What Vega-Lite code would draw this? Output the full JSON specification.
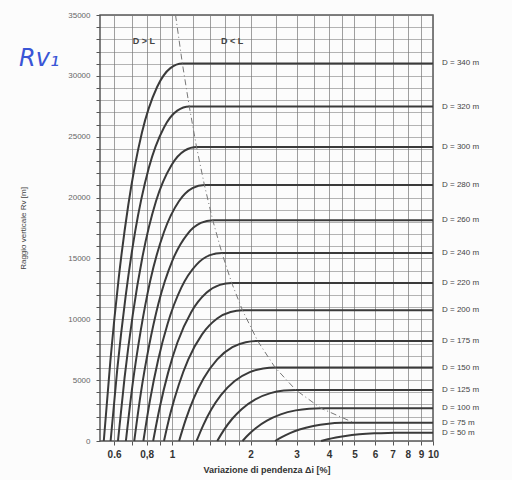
{
  "$schema": "https://vega.github.io/schema/vega-lite/v6.json",
  "width": 333,
  "height": 426,
  "autosize": {"type": "none"},
  "padding": {"left": 100, "top": 15, "right": 79, "bottom": 39},
  "background": "#fcfcfc",
  "config": {"view": {"stroke": "#555", "strokeWidth": 1.5}, "font": "Liberation Sans"},
  "datasets": {
    "curves": [
      {"D":340,"x":0.548,"y":0},{"D":340,"x":0.581,"y":6626},{"D":340,"x":0.625,"y":13367},{"D":340,"x":0.680,"y":19369},{"D":340,"x":0.767,"y":25322},{"D":340,"x":0.877,"y":29081},{"D":340,"x":0.986,"y":30638},{"D":340,"x":1.096,"y":31020},{"D":340,"x":10,"y":31020},
      {"D":320,"x":0.582,"y":0},{"D":320,"x":0.617,"y":5869},{"D":320,"x":0.664,"y":11840},{"D":320,"x":0.722,"y":17157},{"D":320,"x":0.815,"y":22430},{"D":320,"x":0.932,"y":25761},{"D":320,"x":1.048,"y":27140},{"D":320,"x":1.165,"y":27478},{"D":320,"x":10,"y":27478},
      {"D":300,"x":0.621,"y":0},{"D":300,"x":0.658,"y":5159},{"D":300,"x":0.708,"y":10407},{"D":300,"x":0.770,"y":15080},{"D":300,"x":0.869,"y":19714},{"D":300,"x":0.994,"y":22642},{"D":300,"x":1.118,"y":23854},{"D":300,"x":1.242,"y":24151},{"D":300,"x":10,"y":24151},
      {"D":280,"x":0.666,"y":0},{"D":280,"x":0.705,"y":4494},{"D":280,"x":0.759,"y":9065},{"D":280,"x":0.825,"y":13136},{"D":280,"x":0.932,"y":17173},{"D":280,"x":1.065,"y":19723},{"D":280,"x":1.198,"y":20779},{"D":280,"x":1.331,"y":21038},{"D":280,"x":10,"y":21038},
      {"D":260,"x":0.717,"y":0},{"D":260,"x":0.759,"y":3875},{"D":260,"x":0.817,"y":7817},{"D":260,"x":0.888,"y":11327},{"D":260,"x":1.003,"y":14808},{"D":260,"x":1.146,"y":17006},{"D":260,"x":1.290,"y":17917},{"D":260,"x":1.433,"y":18140},{"D":260,"x":10,"y":18140},
      {"D":240,"x":0.777,"y":0},{"D":240,"x":0.823,"y":3301},{"D":240,"x":0.885,"y":6660},{"D":240,"x":0.963,"y":9651},{"D":240,"x":1.087,"y":12617},{"D":240,"x":1.242,"y":14490},{"D":240,"x":1.398,"y":15266},{"D":240,"x":1.553,"y":15456},{"D":240,"x":10,"y":15456},
      {"D":220,"x":0.847,"y":0},{"D":220,"x":0.898,"y":2774},{"D":220,"x":0.966,"y":5597},{"D":220,"x":1.050,"y":8110},{"D":220,"x":1.186,"y":10602},{"D":220,"x":1.355,"y":12176},{"D":220,"x":1.525,"y":12828},{"D":220,"x":1.694,"y":12988},{"D":220,"x":10,"y":12988},
      {"D":200,"x":0.932,"y":0},{"D":200,"x":0.987,"y":2293},{"D":200,"x":1.062,"y":4625},{"D":200,"x":1.155,"y":6702},{"D":200,"x":1.304,"y":8761},{"D":200,"x":1.490,"y":10062},{"D":200,"x":1.677,"y":10601},{"D":200,"x":1.863,"y":10733},{"D":200,"x":10,"y":10733},
      {"D":175,"x":1.065,"y":0},{"D":175,"x":1.129,"y":1755},{"D":175,"x":1.214,"y":3541},{"D":175,"x":1.321,"y":5131},{"D":175,"x":1.491,"y":6708},{"D":175,"x":1.704,"y":7704},{"D":175,"x":1.917,"y":8117},{"D":175,"x":2.130,"y":8218},{"D":175,"x":10,"y":8218},
      {"D":150,"x":1.242,"y":0},{"D":150,"x":1.317,"y":1290},{"D":150,"x":1.416,"y":2602},{"D":150,"x":1.540,"y":3770},{"D":150,"x":1.739,"y":4929},{"D":150,"x":1.987,"y":5661},{"D":150,"x":2.236,"y":5964},{"D":150,"x":2.484,"y":6038},{"D":150,"x":10,"y":6038},
      {"D":125,"x":1.491,"y":0},{"D":125,"x":1.580,"y":896},{"D":125,"x":1.699,"y":1807},{"D":125,"x":1.848,"y":2618},{"D":125,"x":2.087,"y":3423},{"D":125,"x":2.385,"y":3931},{"D":125,"x":2.683,"y":4141},{"D":125,"x":2.981,"y":4193},{"D":125,"x":10,"y":4193},
      {"D":100,"x":1.863,"y":0},{"D":100,"x":1.975,"y":573},{"D":100,"x":2.124,"y":1156},{"D":100,"x":2.311,"y":1675},{"D":100,"x":2.609,"y":2190},{"D":100,"x":2.981,"y":2515},{"D":100,"x":3.354,"y":2650},{"D":100,"x":3.727,"y":2683},{"D":100,"x":10,"y":2683},
      {"D":75,"x":2.484,"y":0},{"D":75,"x":2.634,"y":322},{"D":75,"x":2.833,"y":650},{"D":75,"x":3.081,"y":942},{"D":75,"x":3.479,"y":1232},{"D":75,"x":3.975,"y":1415},{"D":75,"x":4.472,"y":1490},{"D":75,"x":4.969,"y":1509},{"D":75,"x":10,"y":1509},
      {"D":50,"x":3.727,"y":0},{"D":50,"x":3.950,"y":143},{"D":50,"x":4.248,"y":289},{"D":50,"x":4.621,"y":419},{"D":50,"x":5.217,"y":548},{"D":50,"x":5.962,"y":629},{"D":50,"x":6.708,"y":663},{"D":50,"x":7.453,"y":671},{"D":50,"x":10,"y":671}
    ],
    "boundary": [
      {"x":1.032,"y":35000},{"x":1.096,"y":31020},{"x":1.165,"y":27478},{"x":1.242,"y":24151},{"x":1.331,"y":21038},{"x":1.433,"y":18140},{"x":1.553,"y":15456},{"x":1.694,"y":12988},{"x":1.863,"y":10733},{"x":2.130,"y":8218},{"x":2.484,"y":6038},{"x":2.981,"y":4193},{"x":3.727,"y":2683},{"x":4.969,"y":1509}
    ],
    "labels": [
      {"t":"D = 340 m","x":10,"y":31020},{"t":"D = 320 m","x":10,"y":27478},{"t":"D = 300 m","x":10,"y":24151},{"t":"D = 280 m","x":10,"y":21038},{"t":"D = 260 m","x":10,"y":18140},{"t":"D = 240 m","x":10,"y":15456},{"t":"D = 220 m","x":10,"y":12988},{"t":"D = 200 m","x":10,"y":10733},{"t":"D = 175 m","x":10,"y":8218},{"t":"D = 150 m","x":10,"y":6038},{"t":"D = 125 m","x":10,"y":4193},{"t":"D = 100 m","x":10,"y":2683},{"t":"D =   75 m","x":10,"y":1509},{"t":"D =   50 m","x":10,"y":671}
    ],
    "regions": [
      {"t":"D > L","x":0.78,"y":32900},{"t":"D < L","x":1.7,"y":32900}
    ],
    "note": [{"t":"Rv₁","x":0.31,"y":31400}]
  },
  "encoding": {
    "x": {"field":"x","type":"quantitative","scale":{"type":"log","domain":[0.53,10],"nice":false}},
    "y": {"field":"y","type":"quantitative","scale":{"domain":[0,35000],"nice":false}}
  },
  "layer": [
    {
      "data": {"name":"curves"},
      "mark": {"type":"line","interpolate":"monotone","color":"#3a3a3a","strokeWidth":2},
      "encoding": {
        "detail": {"field":"D","type":"nominal"},
        "x": {"field":"x","type":"quantitative","scale":{"type":"log","domain":[0.53,10],"nice":false},
          "axis": {"values":[0.6,0.7,0.8,0.9,1,1.2,1.4,1.6,1.8,2,2.5,3,3.5,4,4.5,5,6,7,8,9,10],
            "tickCount":200,
            "labelExpr":"datum.value == 0.6 ? '0.6' : datum.value == 0.8 ? '0,8' : (datum.value >= 1 && datum.value == floor(datum.value)) ? datum.label : ''",
            "labelOverlap":false,"labelBound":false,"labelFlush":false,
            "title":"Variazione di pendenza Δi [%]","titleFontSize":9,"titleFontWeight":"bold","titleColor":"#333","titlePadding":6,
            "labelFontSize":10,"labelFontWeight":"bold","labelColor":"#333","labelPadding":4,
            "gridColor":"#777","gridOpacity":0.7,"gridWidth":1,"tickColor":"#555","tickSize":4,"domain":false}},
        "y": {"field":"y","type":"quantitative","scale":{"domain":[0,35000],"nice":false},
          "axis": {"values":[0,1000,2000,3000,4000,5000,6000,7000,8000,9000,10000,11000,12000,13000,14000,15000,16000,17000,18000,19000,20000,21000,22000,23000,24000,25000,26000,27000,28000,29000,30000,31000,32000,33000,34000,35000],
            "tickCount":200,
            "labelExpr":"datum.value % 5000 == 0 ? format(datum.value,'d') : ''",
            "labelOverlap":false,"labelBound":false,"labelFlush":false,
            "title":"Raggio verticale Rv [m]","titleFontSize":8,"titleFontWeight":"normal","titleColor":"#444","titlePadding":40,
            "labelFontSize":8,"labelColor":"#666","labelPadding":6,
            "gridColor":"#777","gridOpacity":0.55,"gridWidth":1,"tickColor":"#555","tickSize":4,"domain":false}}
      }
    },
    {
      "data": {"name":"boundary"},
      "mark": {"type":"line","color":"#777","strokeWidth":1,"strokeDash":[6,3,1,3]},
      "encoding": {}
    },
    {
      "data": {"name":"labels"},
      "mark": {"type":"text","align":"left","dx":9,"fontSize":8,"color":"#444"},
      "encoding": {"text":{"field":"t"}}
    },
    {
      "data": {"name":"regions"},
      "mark": {"type":"text","fontSize":9,"fontWeight":"bold","color":"#444"},
      "encoding": {"text":{"field":"t"}}
    },
    {
      "data": {"name":"note"},
      "mark": {"type":"text","fontSize":24,"fontStyle":"italic","color":"#3a55d6","font":"DejaVu Sans"},
      "encoding": {"text":{"field":"t"}}
    }
  ]
}
